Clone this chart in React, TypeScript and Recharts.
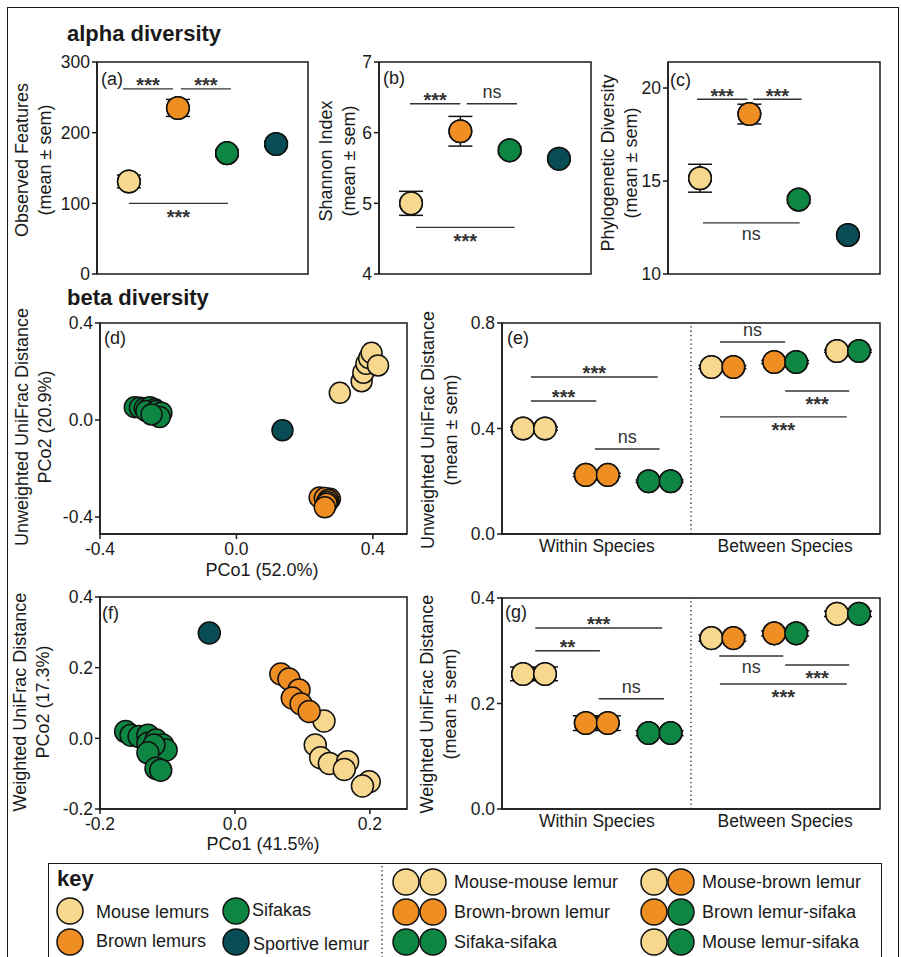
import React from 'react';
import { ScatterChart, Scatter, XAxis, YAxis, ErrorBar, ReferenceLine, ReferenceArea } from 'recharts';

const YELLOW = '#F8D88F';
const ORANGE = '#EE8E23';
const GREEN = '#0C8642';
const TEAL = '#084D55';
const INK = '#1a1a1a';
const FONT = '"Liberation Sans", Arial, Helvetica, sans-serif';

// alpha diversity groups (panels a-c)
const groupNames = ['Mouse lemurs', 'Brown lemurs', 'Sifakas', 'Sportive lemur'];
const groupColors = [YELLOW, ORANGE, GREEN, TEAL];
const groupPos = [1, 2, 3, 4];

const observedMean = [131, 235, 171, 184];
const observedSem = [9, 12, 5, 4];
const shannonMean = [5.0, 6.02, 5.75, 5.63];
const shannonSem = [0.17, 0.21, 0.05, 0.03];
const pdMean = [15.15, 18.6, 14.0, 12.1];
const pdSem = [0.75, 0.53, 0.2, 0.1];

type Sig = { x1: number; x2: number; y: number; text: string; pos: 'above' | 'below' };

const observedSig: Sig[] = [
  { x1: 0.88, x2: 1.9, y: 262, text: '***', pos: 'above' },
  { x1: 2.06, x2: 3.08, y: 262, text: '***', pos: 'above' },
  { x1: 1.0, x2: 3.02, y: 100, text: '***', pos: 'below' },
];
const shannonSig: Sig[] = [
  { x1: 0.98, x2: 2.0, y: 6.41, text: '***', pos: 'above' },
  { x1: 2.13, x2: 3.15, y: 6.41, text: 'ns', pos: 'above' },
  { x1: 1.1, x2: 3.1, y: 4.66, text: '***', pos: 'below' },
];
const pdSig: Sig[] = [
  { x1: 0.94, x2: 1.96, y: 19.4, text: '***', pos: 'above' },
  { x1: 2.08, x2: 3.06, y: 19.4, text: '***', pos: 'above' },
  { x1: 1.06, x2: 3.02, y: 12.75, text: 'ns', pos: 'below' },
];

// PCoA coordinates [PCo1, PCo2] per group
const unweightedMouse = [[0.303, 0.112], [0.367, 0.16], [0.372, 0.195], [0.381, 0.232], [0.389, 0.255], [0.396, 0.277], [0.415, 0.225]];
const unweightedBrown = [[0.244, -0.319], [0.274, -0.325], [0.259, -0.322], [0.269, -0.33], [0.266, -0.338], [0.264, -0.345], [0.259, -0.36]];
const unweightedSifaka = [[-0.298, 0.053], [-0.283, 0.051], [-0.269, 0.048], [-0.254, 0.053], [-0.24, 0.044], [-0.264, 0.037], [-0.235, 0.037], [-0.22, 0.03], [-0.225, 0.012], [-0.249, 0.023]];
const unweightedSportive = [[0.135, -0.042]];

const weightedMouse = [[0.132, 0.049], [0.119, -0.019], [0.127, -0.055], [0.14, -0.071], [0.167, -0.066], [0.162, -0.088], [0.199, -0.123], [0.189, -0.135]];
const weightedBrown = [[0.068, 0.182], [0.08, 0.168], [0.095, 0.137], [0.085, 0.114], [0.098, 0.097], [0.11, 0.076]];
const weightedSifaka = [[-0.162, 0.019], [-0.154, 0.009], [-0.142, 0.005], [-0.129, 0.009], [-0.129, -0.014], [-0.117, -0.005], [-0.107, -0.019], [-0.102, -0.033], [-0.12, -0.019], [-0.129, -0.041], [-0.117, -0.085], [-0.11, -0.09]];
const weightedSportive = [[-0.038, 0.298]];

// pairwise distances (panels e, g)
const pairNames = ['Mouse-mouse lemur', 'Brown-brown lemur', 'Sifaka-sifaka', 'Mouse-brown lemur', 'Brown lemur-sifaka', 'Mouse lemur-sifaka'];
const pairColors = [[YELLOW, YELLOW], [ORANGE, ORANGE], [GREEN, GREEN], [YELLOW, ORANGE], [ORANGE, GREEN], [YELLOW, GREEN]];
const pairPos = [1, 2, 3, 4, 5, 6];
const comparisonLabels = ['Within Species', 'Between Species'];
const comparisonTicks = [2, 5];

const unweightedMean = [0.4, 0.224, 0.2, 0.633, 0.652, 0.694];
const unweightedSem = [0.006, 0.006, 0.005, 0.006, 0.006, 0.005];
const weightedMean = [0.256, 0.163, 0.144, 0.324, 0.333, 0.37];
const weightedSem = [0.013, 0.014, 0.005, 0.006, 0.005, 0.005];

const unweightedSig: Sig[] = [
  { x1: 0.95, x2: 2.97, y: 0.595, text: '***', pos: 'above' },
  { x1: 0.95, x2: 1.99, y: 0.504, text: '***', pos: 'above' },
  { x1: 1.97, x2: 3.0, y: 0.322, text: 'ns', pos: 'above' },
  { x1: 3.96, x2: 5.0, y: 0.728, text: 'ns', pos: 'above' },
  { x1: 5.0, x2: 6.02, y: 0.542, text: '***', pos: 'below' },
  { x1: 3.96, x2: 5.98, y: 0.444, text: '***', pos: 'below' },
];
const weightedSig: Sig[] = [
  { x1: 1.02, x2: 3.04, y: 0.343, text: '***', pos: 'above' },
  { x1: 1.02, x2: 2.05, y: 0.3, text: '**', pos: 'above' },
  { x1: 2.03, x2: 3.07, y: 0.209, text: 'ns', pos: 'above' },
  { x1: 3.95, x2: 4.97, y: 0.29, text: 'ns', pos: 'below' },
  { x1: 5.0, x2: 6.02, y: 0.273, text: '***', pos: 'below' },
  { x1: 3.96, x2: 5.98, y: 0.237, text: '***', pos: 'below' },
];

type Rect = { left: number; top: number; width: number; height: number };
const M = { top: 15, right: 20, bottom: 14, left: 0 };
const YW = 45;
const TICK = { fontSize: 17.5, fill: INK };

const Dot = (r: number) => (p: any) => {
  if (p.cx == null || p.cy == null) return <g />;
  const color = p.payload?.color ?? p.color;
  return <circle cx={p.cx} cy={p.cy} r={r} fill={color} stroke="#111" strokeWidth={1.5} />;
};

const PairDot = (p: any) => {
  if (p.cx == null || p.cy == null) return <g />;
  const [c1, c2] = p.payload?.colors ?? [YELLOW, YELLOW];
  return (
    <g>
      <circle cx={p.cx - 11} cy={p.cy} r={11.3} fill={c1} stroke="#111" strokeWidth={1.5} />
      <circle cx={p.cx + 11} cy={p.cy} r={11.3} fill={c2} stroke="#111" strokeWidth={1.5} />
    </g>
  );
};

const SigText = (p: any) => {
  if (p.cx == null || p.cy == null) return <g />;
  const { text, pos } = p.payload;
  const star = text.includes('*');
  const fs = star ? 20 : 18;
  const off = pos === 'above' ? (star ? -8 : -11) : star ? 9 : 12;
  const base = p.cy + off + (star ? 0.57 : 0.27) * fs;
  return (
    <text x={p.cx} y={base} textAnchor="middle" fontSize={fs} fill="#333" fontWeight={star ? 700 : 400}>
      {text}
    </text>
  );
};

function sigMarks(sigs: Sig[], key: string) {
  return [
    ...sigs.map((s, i) => (
      <ReferenceLine
        key={key + 'l' + i}
        segment={[{ x: s.x1, y: s.y }, { x: s.x2, y: s.y }]}
        stroke="#333"
        strokeWidth={1.4}
        ifOverflow="visible"
      />
    )),
    <Scatter
      key={key + 't'}
      data={sigs.map((s) => ({ x: (s.x1 + s.x2) / 2, y: s.y, text: s.text, pos: s.pos }))}
      shape={SigText}
      isAnimationActive={false}
    />,
  ];
}

function groupMarks(mean: number[], sem: number[], key: string) {
  const data = groupPos.map((x, i) => ({ x, y: mean[i], sem: sem[i], color: groupColors[i], name: groupNames[i] }));
  return [
    <Scatter key={key + 'e'} data={data} shape={Dot(11.3)} isAnimationActive={false}>
      <ErrorBar dataKey="sem" direction="y" width={12} stroke="#111" strokeWidth={1.5} isAnimationActive={false} />
    </Scatter>,
    <Scatter key={key + 'd'} data={data} shape={Dot(11.3)} isAnimationActive={false} />,
  ];
}

function pairMarks(mean: number[], sem: number[], key: string) {
  const data = pairPos.map((x, i) => ({ x, y: mean[i], sem: sem[i], colors: pairColors[i], name: pairNames[i] }));
  return [
    <Scatter key={key + 'e'} data={data} shape={PairDot} isAnimationActive={false}>
      <ErrorBar dataKey="sem" direction="y" width={24} stroke="#111" strokeWidth={1.5} isAnimationActive={false} />
    </Scatter>,
    <Scatter key={key + 'd'} data={data} shape={PairDot} isAnimationActive={false} />,
  ];
}

function pcoaMarks(sets: number[][][], r: number, key: string) {
  return sets.map((pts, gi) => (
    <Scatter
      key={key + gi}
      data={pts.map(([x, y]) => ({ x, y, color: groupColors[gi] }))}
      shape={Dot(r)}
      isAnimationActive={false}
    />
  ));
}

type PanelProps = {
  rect: Rect;
  xDomain: [number, number];
  yDomain: [number, number];
  yTicks: number[];
  yFormat?: (v: number) => string;
  xMode: 'hidden' | 'numeric' | 'category';
  xTicks?: number[];
  xFormat?: (v: number) => string;
  children?: React.ReactNode;
};

function Panel({ rect, xDomain, yDomain, yTicks, yFormat, xMode, xTicks, xFormat, children }: PanelProps) {
  const xh = xMode === 'hidden' ? 0 : 30;
  const width = YW + rect.width + M.right;
  const height = M.top + rect.height + xh + M.bottom;
  return (
    <div style={{ position: 'absolute', left: rect.left - YW, top: rect.top - M.top }}>
      <ScatterChart width={width} height={height} margin={M}>
        <XAxis
          type="number"
          dataKey="x"
          domain={xDomain}
          allowDataOverflow
          hide={xMode === 'hidden'}
          height={xh}
          ticks={xTicks}
          tickFormatter={xFormat}
          interval={0}
          tick={TICK}
          axisLine={{ stroke: INK, strokeWidth: 1.5 }}
          tickLine={xMode === 'numeric' ? { stroke: INK, strokeWidth: 1.5 } : false}
          tickSize={xMode === 'numeric' ? 5 : 4}
          tickMargin={xMode === 'numeric' ? 4 : 2}
        />
        <YAxis
          type="number"
          dataKey="y"
          width={YW}
          domain={yDomain}
          allowDataOverflow
          ticks={yTicks}
          interval={0}
          tickFormatter={yFormat}
          tick={TICK}
          axisLine={{ stroke: INK, strokeWidth: 1.5 }}
          tickLine={{ stroke: INK, strokeWidth: 1.5 }}
          tickSize={5}
          tickMargin={2}
        />
        <ReferenceArea
          x1={xDomain[0]}
          x2={xDomain[1]}
          y1={yDomain[0]}
          y2={yDomain[1]}
          fill="none"
          stroke={INK}
          strokeWidth={1.5}
          ifOverflow="visible"
        />
        {children}
      </ScatterChart>
    </div>
  );
}

const Txt = ({ x, y, size = 18, bold = false, children }: any) => (
  <div
    style={{
      position: 'absolute',
      left: x,
      top: y,
      transform: 'translateY(-50%)',
      fontSize: size,
      fontWeight: bold ? 700 : 400,
      lineHeight: 1.15,
      whiteSpace: 'nowrap',
      color: INK,
    }}
  >
    {children}
  </div>
);

const VTitle = ({ x, y, lines }: { x: number; y: number; lines: string[] }) => (
  <div
    style={{
      position: 'absolute',
      left: x,
      top: y,
      transform: 'translate(-50%, -50%) rotate(-90deg)',
      fontSize: 18,
      lineHeight: '23px',
      whiteSpace: 'nowrap',
      textAlign: 'center',
      color: INK,
    }}
  >
    {lines.map((l) => (
      <div key={l}>{l}</div>
    ))}
  </div>
);

const HTitle = ({ x, y, text }: { x: number; y: number; text: string }) => (
  <div
    style={{
      position: 'absolute',
      left: x,
      top: y,
      transform: 'translate(-50%, -50%)',
      fontSize: 18,
      lineHeight: 1,
      whiteSpace: 'nowrap',
      color: INK,
    }}
  >
    {text}
  </div>
);

const fmt1 = (v: number) => v.toFixed(1);
const catFmt = (v: number) => comparisonLabels[comparisonTicks.indexOf(v)] ?? '';

function Key() {
  const singles = [
    { x: 70, y: 911, i: 0 },
    { x: 70, y: 942, i: 1 },
    { x: 236, y: 911, i: 2 },
    { x: 236, y: 942, i: 3 },
  ];
  const pairs = [
    { x: 419, y: 882, i: 0 },
    { x: 419, y: 912, i: 1 },
    { x: 419, y: 942, i: 2 },
    { x: 667, y: 882, i: 3 },
    { x: 667, y: 912, i: 4 },
    { x: 667, y: 942, i: 5 },
  ];
  return (
    <>
      <div
        style={{
          position: 'absolute',
          left: 48,
          top: 863,
          width: 834,
          height: 120,
          border: `1.5px solid ${INK}`,
          boxSizing: 'border-box',
        }}
      />
      <svg style={{ position: 'absolute', left: 0, top: 0 }} width={901} height={957}>
        <line x1={382} y1={866} x2={382} y2={957} stroke={INK} strokeWidth={1.3} strokeDasharray="1.3 3" />
        {singles.map((s) => (
          <circle key={'s' + s.i} cx={s.x} cy={s.y} r={13} fill={groupColors[s.i]} stroke="#111" strokeWidth={1.5} />
        ))}
        {pairs.map((p) => (
          <g key={'p' + p.i}>
            <circle cx={p.x - 13} cy={p.y} r={13} fill={pairColors[p.i][0]} stroke="#111" strokeWidth={1.5} />
            <circle cx={p.x + 14} cy={p.y} r={13} fill={pairColors[p.i][1]} stroke="#111" strokeWidth={1.5} />
          </g>
        ))}
      </svg>
      <Txt x={57} y={879} size={22} bold>
        key
      </Txt>
      <Txt x={96} y={912}>{groupNames[0]}</Txt>
      <Txt x={96} y={941}>{groupNames[1]}</Txt>
      <Txt x={252} y={910}>{groupNames[2]}</Txt>
      <Txt x={253} y={944}>{groupNames[3]}</Txt>
      {pairs.map((p) => (
        <Txt key={'t' + p.i} x={p.i < 3 ? 454 : 702} y={p.y}>
          {pairNames[p.i]}
        </Txt>
      ))}
    </>
  );
}

export default function App() {
  return (
    <div
      style={{
        position: 'absolute',
        left: 0,
        top: 0,
        width: 901,
        height: 957,
        overflow: 'hidden',
        background: '#fff',
        fontFamily: FONT,
        color: INK,
      }}
    >
      <div
        style={{
          position: 'absolute',
          left: 7,
          top: 7,
          width: 892,
          height: 1000,
          border: `1.5px solid ${INK}`,
          boxSizing: 'border-box',
        }}
      />

      <Txt x={67} y={34} size={22} bold>
        alpha diversity
      </Txt>
      <Txt x={67} y={298} size={22} bold>
        beta diversity
      </Txt>

      {/* (a) observed features */}
      <Panel rect={{ left: 97, top: 62, width: 211, height: 212 }} xDomain={[0.35, 4.65]} yDomain={[0, 300]} yTicks={[0, 100, 200, 300]} xMode="hidden">
        {sigMarks(observedSig, 'as')}
        {groupMarks(observedMean, observedSem, 'a')}
      </Panel>

      {/* (b) shannon */}
      <Panel rect={{ left: 379, top: 62, width: 212, height: 212 }} xDomain={[0.35, 4.65]} yDomain={[4, 7]} yTicks={[4, 5, 6, 7]} xMode="hidden">
        {sigMarks(shannonSig, 'bs')}
        {groupMarks(shannonMean, shannonSem, 'b')}
      </Panel>

      {/* (c) phylogenetic diversity */}
      <Panel rect={{ left: 668, top: 62, width: 212, height: 212 }} xDomain={[0.35, 4.65]} yDomain={[10, 21.4]} yTicks={[10, 15, 20]} xMode="hidden">
        {sigMarks(pdSig, 'cs')}
        {groupMarks(pdMean, pdSem, 'c')}
      </Panel>

      {/* (d) unweighted PCoA */}
      <Panel
        rect={{ left: 100, top: 323, width: 307, height: 211 }}
        xDomain={[-0.4, 0.5]}
        yDomain={[-0.47, 0.4]}
        yTicks={[-0.4, 0, 0.4]}
        yFormat={fmt1}
        xMode="numeric"
        xTicks={[-0.4, 0, 0.4]}
        xFormat={fmt1}
      >
        {pcoaMarks([unweightedMouse, unweightedBrown, unweightedSifaka, unweightedSportive], 10.5, 'd')}
      </Panel>

      {/* (e) unweighted distances */}
      <Panel
        rect={{ left: 502, top: 323, width: 378, height: 211 }}
        xDomain={[0.49, 6.51]}
        yDomain={[0, 0.8]}
        yTicks={[0, 0.4, 0.8]}
        yFormat={fmt1}
        xMode="category"
        xTicks={comparisonTicks}
        xFormat={catFmt}
      >
        <ReferenceLine x={3.5} stroke={INK} strokeWidth={1.3} strokeDasharray="1.3 3" />
        {sigMarks(unweightedSig, 'es')}
        {pairMarks(unweightedMean, unweightedSem, 'e')}
      </Panel>

      {/* (f) weighted PCoA */}
      <Panel
        rect={{ left: 100, top: 597, width: 307, height: 212 }}
        xDomain={[-0.2, 0.255]}
        yDomain={[-0.2, 0.4]}
        yTicks={[-0.2, 0, 0.2, 0.4]}
        yFormat={fmt1}
        xMode="numeric"
        xTicks={[-0.2, 0, 0.2]}
        xFormat={fmt1}
      >
        {pcoaMarks([weightedMouse, weightedBrown, weightedSifaka, weightedSportive], 11, 'f')}
      </Panel>

      {/* (g) weighted distances */}
      <Panel
        rect={{ left: 502, top: 598, width: 378, height: 211 }}
        xDomain={[0.49, 6.51]}
        yDomain={[0, 0.4]}
        yTicks={[0, 0.2, 0.4]}
        yFormat={fmt1}
        xMode="category"
        xTicks={comparisonTicks}
        xFormat={catFmt}
      >
        <ReferenceLine x={3.5} stroke={INK} strokeWidth={1.3} strokeDasharray="1.3 3" />
        {sigMarks(weightedSig, 'gs')}
        {pairMarks(weightedMean, weightedSem, 'g')}
      </Panel>

      {/* panel letters */}
      <Txt x={101} y={79}>(a)</Txt>
      <Txt x={383} y={78}>(b)</Txt>
      <Txt x={670} y={80}>(c)</Txt>
      <Txt x={104} y={338}>(d)</Txt>
      <Txt x={507} y={338}>(e)</Txt>
      <Txt x={102} y={613}>(f)</Txt>
      <Txt x={505} y={612}>(g)</Txt>

      {/* axis titles */}
      <VTitle x={33.5} y={160} lines={['Observed Features', '(mean ± sem)']} />
      <VTitle x={337.5} y={161} lines={['Shannon Index', '(mean ± sem)']} />
      <VTitle x={619.5} y={163} lines={['Phylogenetic Diversity', '(mean ± sem)']} />
      <VTitle x={33.5} y={427} lines={['Unweighted UniFrac Distance', 'PCo2 (20.9%)']} />
      <VTitle x={440} y={430} lines={['Unweighted UniFrac Distance', '(mean ± sem)']} />
      <VTitle x={31.5} y={702} lines={['Weighted UniFrac Distance', 'PCo2 (17.3%)']} />
      <VTitle x={439} y={704} lines={['Weighted UniFrac Distance', '(mean ± sem)']} />
      <HTitle x={262} y={570} text="PCo1 (52.0%)" />
      <HTitle x={263} y={844} text="PCo1 (41.5%)" />

      <Key />
    </div>
  );
}
